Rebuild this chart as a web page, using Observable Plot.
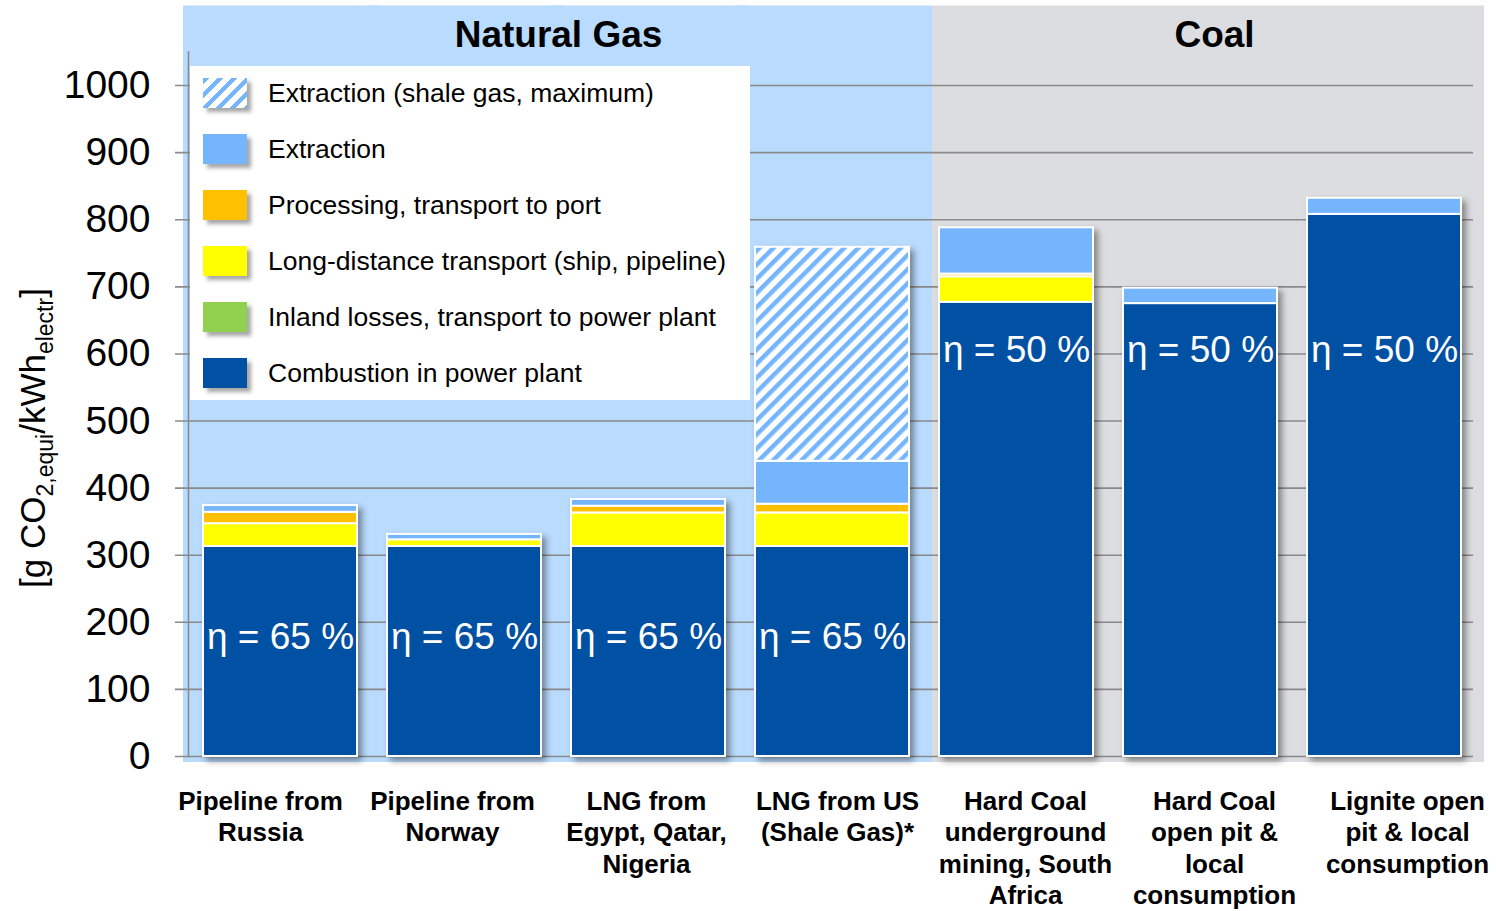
<!DOCTYPE html>
<html><head><meta charset="utf-8">
<script src="https://cdn.jsdelivr.net/npm/d3@7"></script>
<script src="https://cdn.jsdelivr.net/npm/@observablehq/plot@0.6"></script>
<style>
body{margin:0;background:#fff;font-family:"Liberation Sans",Arial,sans-serif;}
#wrap{position:relative;width:1496px;height:911px;overflow:hidden;}
#legend{position:absolute;left:190px;top:66px;width:560px;height:334px;background:#fff;}
.row{position:absolute;left:0;width:560px;height:56px;}
.sw{position:absolute;left:13px;top:12px;width:44px;height:30px;box-shadow:4px 4px 4px rgba(0,0,0,0.35);}
.lt{position:absolute;left:78px;top:-1px;line-height:56px;font-size:26.5px;color:#000;white-space:nowrap;}
#ylab{position:absolute;left:33px;top:438px;transform:translate(-50%,-50%) rotate(-90deg);font-size:35px;white-space:nowrap;color:#000;}
#ylab sub{font-size:23px;vertical-align:-0.35em;line-height:0;}
</style>
</head><body>
<div id="wrap"></div>
<script>
const categories = [
  "Pipeline from\nRussia",
  "Pipeline from\nNorway",
  "LNG from\nEgypt, Qatar,\nNigeria",
  "LNG from US\n(Shale Gas)*",
  "Hard Coal\nunderground\nmining, South\nAfrica",
  "Hard Coal\nopen pit &\nlocal\nconsumption",
  "Lignite open\npit & local\nconsumption"
];
const groups = ["Natural Gas","Natural Gas","Natural Gas","Natural Gas","Coal","Coal","Coal"];
const stages = [
  "Combustion in power plant",
  "Inland losses, transport to power plant",
  "Long-distance transport (ship, pipeline)",
  "Processing, transport to port",
  "Extraction",
  "Extraction (shale gas, maximum)"
];
const combustion   = [313, 313, 313, 313, 677, 675, 808];
const inlandLosses = [0, 0, 0, 0, 0, 0, 0];
const longDistance = [34, 10, 50, 50, 38, 0, 0];
const processing   = [17, 0, 10, 13, 4, 0, 0];
const extraction   = [10, 8, 10, 64, 69, 23, 24];
const shaleMax     = [0, 0, 0, 319, 0, 0, 0];
const efficiency   = ["65 %","65 %","65 %","65 %","50 %","50 %","50 %"];
const yTicks = [0,100,200,300,400,500,600,700,800,900,1000];
const groupTitles = ["Natural Gas","Coal"];
const legendOrder = [5,4,3,2,1,0];
const stageColors = ["#0050a4","#92d050","#ffff00","#ffc000","#74b5fe","url(#hatch)"];

const series = [combustion, inlandLosses, longDistance, processing, extraction, shaleMax];
const data = [];
categories.forEach((c, i) => {
  series.forEach((s, k) => {
    if (s[i] > 0) data.push({category: c, group: groups[i], stage: stages[k], value: s[i]});
  });
});
const cats = categories.map((c, i) => ({category: c, group: groups[i], eff: efficiency[i]}));

// horizontal nudges of the category labels (layout only)
const labelShift = [-20, -12, -2, 5, 9, 14, 23];

const plot = Plot.plot({
  width: 1496,
  height: 911,
  marginLeft: 188,
  marginRight: 20,
  marginTop: 51.5,
  marginBottom: 155,
  style: {fontFamily: "Liberation Sans, Arial, sans-serif", color: "#000", background: "transparent", overflow: "visible"},
  x: {domain: categories, paddingInner: 0.163, paddingOuter: 0.0815, label: null, axis: null},
  y: {domain: [0, 1050], label: null},
  color: {domain: stages, range: stageColors},
  marks: [
    Plot.barY(cats.filter(d => d.group === "Natural Gas"), {x: "category", y1: 0, y2: 1050, fill: "#b9dbfe",
      insetTop: -46, insetBottom: -6, insetLeft: -20, insetRight: -23}),
    Plot.barY(cats.filter(d => d.group === "Coal"), {x: "category", y1: 0, y2: 1050, fill: "#dcdde0",
      insetTop: -46, insetBottom: -6, insetLeft: -7, insetRight: -23}),
    Plot.ruleY(yTicks, {stroke: "#8a8a8a", strokeWidth: 1.6, insetLeft: -13, insetRight: 3}),
    Plot.frame({anchor: "left", stroke: "#8a8a8a", strokeWidth: 1.6}),
    Plot.axisY({ticks: yTicks, tickFormat: d => String(d), tickSize: 0, tickPadding: 38, fontSize: 39, label: null}),
    ...categories.map((c, i) => Plot.text([c], {x: d => d, frameAnchor: "bottom", lineAnchor: "top",
      dy: 31, dx: labelShift[i], fontSize: 26, fontWeight: "bold", lineHeight: 1.21, fill: "#000"})),
    Plot.barY(data, {x: "category", y: "value", fill: "stage", stroke: "white", strokeWidth: 2,
      imageFilter: "drop-shadow(4px 4px 3px rgba(0,0,0,0.4))"}),
    Plot.text(cats, {x: "category", y: d => d.group === "Natural Gas" ? 178 : 605,
      text: d => "η = " + d.eff, fill: "white", fontSize: 37}),
    Plot.text([groupTitles[0]], {x: () => categories[1], y: () => 1050, text: d => d, dx: 94, dy: -17,
      fontSize: 37, fontWeight: "bold", fill: "#000"}),
    Plot.text([groupTitles[1]], {x: () => categories[5], y: () => 1050, text: d => d, dx: 14, dy: -17,
      fontSize: 37, fontWeight: "bold", fill: "#000"})
  ]
});

d3.select(plot).insert("defs", ":first-child").html(
  '<pattern id="hatch" patternUnits="userSpaceOnUse" width="10" height="10" patternTransform="rotate(45)">' +
  '<rect width="10" height="10" fill="#ffffff"/><rect width="4.5" height="10" fill="#74b5fe"/></pattern>');

const wrap = document.getElementById("wrap");
wrap.appendChild(plot);

// legend
const legend = document.createElement("div");
legend.id = "legend";
legendOrder.forEach((k, r) => {
  const row = document.createElement("div");
  row.className = "row";
  row.style.top = (r * 56) + "px";
  const sw = document.createElement("div");
  sw.className = "sw";
  sw.style.background = stageColors[k].startsWith("url")
    ? "repeating-linear-gradient(135deg, #74b5fe 0 4.5px, #ffffff 4.5px 10px)"
    : stageColors[k];
  const lt = document.createElement("div");
  lt.className = "lt";
  lt.textContent = stages[k];
  row.appendChild(sw); row.appendChild(lt);
  legend.appendChild(row);
});
wrap.appendChild(legend);

const ylab = document.createElement("div");
ylab.id = "ylab";
ylab.innerHTML = "[g CO<sub>2,equi</sub>/kWh<sub>electr</sub>]";
wrap.appendChild(ylab);
plot.style.position = "absolute";
plot.style.left = "0"; plot.style.top = "0";
</script>
</body></html>
